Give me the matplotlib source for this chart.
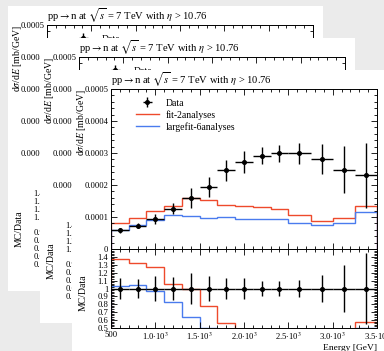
import matplotlib
matplotlib.use("Agg")
import matplotlib.pyplot as plt
import numpy as np
from matplotlib.patches import Rectangle
from matplotlib.ticker import MultipleLocator, FixedLocator, FuncFormatter

# binning and values
bin_edges = [500, 700, 900, 1100, 1300, 1500, 1700, 1900, 2100, 2300, 2500, 2750, 3000, 3250, 3500]
data_vals = [0.58e-4, 0.73e-4, 0.94e-4, 1.26e-4, 1.60e-4, 1.94e-4, 2.46e-4,
             2.72e-4, 2.92e-4, 2.99e-4, 2.99e-4, 2.81e-4, 2.48e-4, 2.30e-4]
data_errs = [0.75e-5, 0.88e-5, 1.5e-5, 1.8e-5, 3.2e-5, 3.1e-5, 3.2e-5,
             3.5e-5, 2.6e-5, 2.7e-5, 3.3e-5, 4.8e-5, 7.4e-5, 10.2e-5]
fit2_vals = [0.80e-4, 0.97e-4, 1.20e-4, 1.33e-4, 1.60e-4, 1.52e-4, 1.38e-4,
             1.33e-4, 1.30e-4, 1.26e-4, 1.05e-4, 0.87e-4, 0.97e-4, 1.33e-4]
largefit6_vals = [0.60e-4, 0.76e-4, 0.91e-4, 1.05e-4, 1.02e-4, 0.97e-4, 1.00e-4,
                  0.94e-4, 0.94e-4, 0.94e-4, 0.80e-4, 0.74e-4, 0.82e-4, 1.15e-4]

title = r"pp$\rightarrow$n at $\sqrt{s}$ = 7 TeV with $\eta$ > 10.76"
main_yticks = [0, 0.0001, 0.0002, 0.0003, 0.0004, 0.0005]
ratio_yticks = [0.5, 0.6, 0.7, 0.8, 0.9, 1.0, 1.1, 1.2, 1.3, 1.4]

RED = "#ee4a2c"
BLUE = "#4a7bee"
BG = "#ebebeb"

plt.rcParams["font.family"] = ["Liberation Serif", "DejaVu Serif"]
plt.rcParams["mathtext.fontset"] = "stix"

W, H = 384, 351
CARD_W, CARD_H = 315, 285


def fx(px):
    return px / W


def fy(py):
    return 1 - py / H


def xfmt(v, pos):
    if v == 500:
        return "500"
    return r"%.1f$\cdot$10$^{3}$" % (v / 1000.0)


def style(ax):
    ax.tick_params(which="both", direction="in", top=True, right=True,
                   width=0.6, labelsize=6.2, pad=2)
    ax.tick_params(which="major", length=4.5)
    ax.tick_params(which="minor", length=2.2)
    for sp in ax.spines.values():
        sp.set_linewidth(0.7)
    ax.xaxis.set_major_locator(MultipleLocator(500))
    ax.xaxis.set_minor_locator(MultipleLocator(100))
    ax.set_xlim(bin_edges[0], bin_edges[-1])


def draw_card(fig, ox, oy, z):
    edges = np.array(bin_edges, dtype=float)
    centers = 0.5 * (edges[1:] + edges[:-1])
    halfw = 0.5 * (edges[1:] - edges[:-1])
    data = np.array(data_vals)
    errs = np.array(data_errs)

    card = Rectangle((fx(ox), fy(oy + CARD_H)), CARD_W / W, CARD_H / H,
                     transform=fig.transFigure, facecolor="white",
                     edgecolor="none", zorder=z)
    fig.add_artist(card)

    ax = fig.add_axes([fx(ox + 39), fy(oy + 179), 266 / W, 160 / H])
    rax = fig.add_axes([fx(ox + 39), fy(oy + 258), 266 / W, 79 / H])
    ax.set_zorder(z + 1)
    rax.set_zorder(z + 2)
    for a in (ax, rax):
        a.patch.set_facecolor("white")
        style(a)

    # main panel
    ax.stairs(fit2_vals, edges, color=RED, lw=1.0, label="fit-2analyses")
    ax.stairs(largefit6_vals, edges, color=BLUE, lw=1.0, label="largefit-6analyses")
    ax.errorbar(centers, data, xerr=halfw, yerr=errs, fmt="o", ms=2.6,
                color="black", lw=1.0, capsize=0, label="Data", zorder=5)
    ax.set_ylim(0, 0.0005)
    ax.yaxis.set_major_locator(FixedLocator(main_yticks))
    ax.yaxis.set_minor_locator(MultipleLocator(0.00002))
    ax.set_yticklabels(["0", "0.0001", "0.0002", "0.0003", "0.0004", "0.0005"])
    ax.tick_params(labelbottom=False)
    ax.set_title(title, loc="left", fontsize=7.6, pad=3)
    ax.set_ylabel(r"d$\sigma$/d$E$ [mb/GeV]", fontsize=7, loc="top")
    ax.yaxis.set_label_coords(-0.088, 1.0)

    handles, labels = ax.get_legend_handles_labels()
    order = [labels.index(n) for n in ("Data", "fit-2analyses", "largefit-6analyses")]
    ax.legend([handles[i] for i in order], [labels[i] for i in order],
              loc="upper left", bbox_to_anchor=(0.095, 0.94), frameon=False,
              fontsize=7, handlelength=2.3, handletextpad=0.7,
              labelspacing=0.25, borderpad=0, borderaxespad=0)

    # ratio panel
    rax.stairs(np.array(fit2_vals) / data, edges, color=RED, lw=1.0)
    rax.stairs(np.array(largefit6_vals) / data, edges, color=BLUE, lw=1.0)
    rax.errorbar(centers, np.ones_like(data), xerr=halfw, yerr=errs / data,
                 fmt="o", ms=2.6, color="black", lw=1.0, capsize=0, zorder=5)
    rax.set_ylim(0.5, 1.5)
    rax.yaxis.set_major_locator(FixedLocator(ratio_yticks))
    rax.yaxis.set_minor_locator(MultipleLocator(0.02))
    rax.set_yticklabels(["0.5", "0.6", "0.7", "0.8", "0.9", "1",
                         "1.1", "1.2", "1.3", "1.4"])
    rax.xaxis.set_major_formatter(FuncFormatter(xfmt))
    rax.set_ylabel("MC/Data", fontsize=7)
    rax.yaxis.set_label_coords(-0.088, 0.45)
    rax.set_xlabel("Energy [GeV]", fontsize=6.8, loc="right", labelpad=1)


fig = plt.figure(figsize=(W / 100, H / 100), dpi=100)
fig.patch.set_facecolor(BG)

for k in range(3):
    draw_card(fig, 8 + 32 * k, 6 + 32 * k, 10 * (k + 1))

fig.savefig("out.png", dpi=100, facecolor=BG)
